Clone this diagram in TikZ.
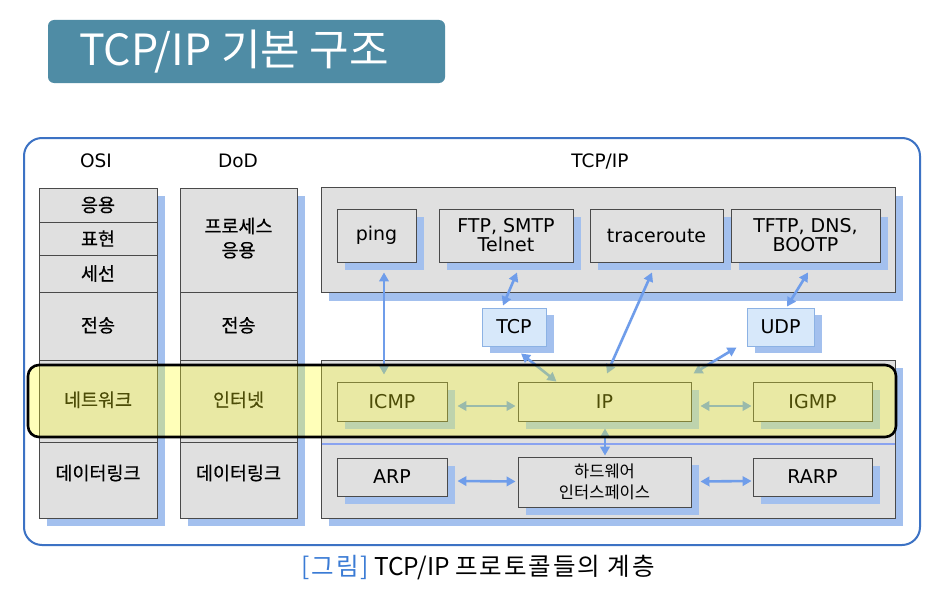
\documentclass[tikz,border=0pt]{standalone}
\usepackage{fontspec}
\setmainfont{DejaVu Sans}
\newfontfamily\kr{Noto Sans CJK KR}
\newfontfamily\krb[FakeBold=0.5]{Noto Sans CJK KR}
\newfontfamily\krcap[LetterSpace=8]{Noto Sans CJK KR}
\usetikzlibrary{arrows.meta,shadows,calc}
\definecolor{titlec}{HTML}{4F8CA5}
\definecolor{framec}{HTML}{3C72C4}
\definecolor{cellc}{HTML}{E0E0E0}
\definecolor{cellborder}{HTML}{4A4A4A}
\definecolor{shb}{HTML}{A3C0EE}
\definecolor{arrc}{HTML}{6F9DEA}
\definecolor{tcpfill}{HTML}{D7E8FA}
\definecolor{tcpborder}{HTML}{8CB2E4}
\definecolor{hlc}{HTML}{FFFF1A}
\definecolor{capblue}{HTML}{3A7BD5}
\begin{document}
\begin{tikzpicture}[x=1pt,y=-1pt,
  cell/.style={draw=cellborder, line width=0.9pt, fill=cellc, inner sep=0pt, align=center,
    font=\krb\fontsize{18.5}{25}\selectfont},
  bigbox/.style={draw=cellborder, line width=0.9pt, fill=cellc, inner sep=0pt,
    general shadow={fill=shb, shadow xshift=8pt, shadow yshift=-8pt}},
  pbox/.style={draw=cellborder, line width=0.9pt, fill=cellc, inner sep=0pt, align=center,
    font=\fontsize{19}{19}\selectfont,
    general shadow={fill=shb, shadow xshift=8pt, shadow yshift=-8pt}},
  tbox/.style={draw=tcpborder, line width=0.9pt, fill=tcpfill, inner sep=0pt,
    font=\fontsize{19}{19}\selectfont,
    general shadow={fill=shb, shadow xshift=8pt, shadow yshift=-7pt}},
  hdr/.style={font=\fontsize{18.5}{20}\selectfont},
  arr/.style={draw=arrc, line width=2.6pt, {Triangle[length=9pt,width=9.5pt]}-{Triangle[length=9pt,width=9.5pt]}},
]
\useasboundingbox (0,0) rectangle (934,594);
\fill[white] (0,0) rectangle (934,594);

% title
\node[fill=titlec, rounded corners=6pt, minimum width=397pt, minimum height=63pt, inner sep=0pt] (titlebox) at (246.5,51.5) {};
\node[anchor=base west, text=white, font=\kr\fontsize{43}{47}\selectfont, inner sep=0pt] (titletext) at (79,66) {TCP/IP 기본 구조};

% outer frame
\draw[framec, line width=2pt, rounded corners=18pt] (24,138) rectangle (920,545);

% headers
\node[hdr] (hosi) at (96,161) {OSI};
\node[hdr] (hdod) at (238,161) {DoD};
\node[hdr] (htcp) at (600,161) {TCP/IP};

% column shadows
\fill[shb] (47,196) rectangle (165,526);
\fill[shb] (188,196) rectangle (305,526);

% OSI column
\node[cell, minimum width=118pt, minimum height=34pt] (osi1) at (98,205) {\raisebox{-2pt}{응용}};
\node[cell, minimum width=118pt, minimum height=33pt] (osi2) at (98,238.5) {표현};
\node[cell, minimum width=118pt, minimum height=37pt] (osi3) at (98,273.5) {\raisebox{-2pt}{세선}};
\node[cell, minimum width=118pt, minimum height=68pt] (osi4) at (98,326) {\raisebox{3pt}{전송}};
\node[cell, minimum width=118pt, minimum height=82pt] (osi5) at (98,401) {\raisebox{4pt}{네트워크}};
\node[cell, minimum width=118pt, minimum height=76pt,
  label={[font=\krb\fontsize{18.5}{22}\selectfont, yshift=7pt]center:데이터링크}] (osi6) at (98,480) {};

% DoD column
\node[cell, minimum width=117pt, minimum height=104pt] (dod1) at (238.5,240) {\raisebox{3pt}{\begin{tabular}{@{}c@{}}프로세스\\[-1pt]응용\end{tabular}}};
\node[cell, minimum width=117pt, minimum height=68pt] (dod2) at (238.5,326) {\raisebox{3pt}{전송}};
\node[cell, minimum width=117pt, minimum height=82pt] (dod3) at (238.5,401) {\raisebox{4pt}{인터넷}};
\node[cell, minimum width=117pt, minimum height=76pt,
  label={[font=\krb\fontsize{18.5}{22}\selectfont, yshift=7pt]center:데이터링크}] (dod4) at (238.5,480) {};

% TCP/IP big boxes
\node[bigbox, minimum width=574pt, minimum height=105pt] (appl) at (608,240) {};
\node[bigbox, minimum width=574pt, minimum height=83pt] (inet) at (608,401.5) {};
\node[bigbox, minimum width=574pt, minimum height=75pt] (link) at (608,480.5) {};
\draw[shb!85!blue, line width=2.2pt] ([xshift=1pt,yshift=-1.4pt]link.north west) -- ([xshift=-0.5pt,yshift=-1.4pt]link.north east);

% application boxes
\node[pbox, minimum width=79pt, minimum height=53pt] (ping) at (376.5,235.5) {ping};
\node[pbox, minimum width=134pt, minimum height=53pt] (ftp) at (506,235.5) {FTP, SMTP\\Telnet};
\node[pbox, minimum width=133pt, minimum height=53pt] (trace) at (656.5,235.5) {traceroute};
\node[pbox, minimum width=149pt, minimum height=53pt] (tftp) at (805.5,235.5) {TFTP, DNS,\\BOOTP};

% transport
\node[tbox, minimum width=64pt, minimum height=38pt] (tcp) at (514,327) {TCP};
\node[tbox, minimum width=67pt, minimum height=38pt] (udp) at (780.5,327) {UDP};

% internet
\node[pbox, minimum width=110pt, minimum height=39pt] (icmp) at (392,401.5) {ICMP};
\node[pbox, minimum width=173pt, minimum height=39pt] (ip) at (604.5,401.5) {IP};
\node[pbox, minimum width=119pt, minimum height=39pt] (igmp) at (812.5,401.5) {IGMP};

% link
\node[pbox, minimum width=110pt, minimum height=38pt] (arp) at (392,477) {ARP};
\node[pbox, minimum width=173pt, minimum height=50pt, font=\kr\fontsize{16.5}{21}\selectfont] (hw) at (604.5,482) {하드웨어\\인터스페이스};
\node[pbox, minimum width=119pt, minimum height=38pt] (rarp) at (812.5,477) {RARP};

% connectors
\draw[arr] ([xshift=7.5pt,yshift=-10pt]ping.south) -- ([xshift=-8pt,yshift=7pt]icmp.north);
\draw[arr] ([xshift=11pt,yshift=-10pt]ftp.south) -- ([xshift=-11pt,yshift=2pt]tcp.north);
\draw[arr] ([xshift=7pt,yshift=-7pt]tcp.south) -- ([xshift=-48pt,yshift=0pt]ip.north);
\draw[arr] ([xshift=-4.5pt,yshift=-10pt]trace.south) -- ([xshift=2.5pt,yshift=8pt]ip.north);
\draw[arr] ([xshift=2.5pt,yshift=-10pt]tftp.south) -- ([xshift=6.5pt,yshift=1pt]udp.north);
\draw[arr] ([xshift=-10pt,yshift=-1pt]udp.south west) -- ([xshift=2pt,yshift=8pt]ip.north east);
\draw[arr] ([xshift=10pt,yshift=-4.5pt]icmp.east) -- ([xshift=-2pt,yshift=-4.5pt]ip.west);
\draw[arr] ([xshift=9pt,yshift=-4.5pt]ip.east) -- ([xshift=-1pt,yshift=-4.5pt]igmp.west);
\draw[arr] ([xshift=0.5pt,yshift=-7pt]ip.south) -- ([xshift=0.5pt,yshift=1pt]hw.north);
\draw[arr] ([xshift=10pt,yshift=-4pt]arp.east) -- ([xshift=-2pt,yshift=0.5pt]hw.west);
\draw[arr] ([xshift=9pt,yshift=0.5pt]hw.east) -- ([xshift=-1pt,yshift=-4pt]rarp.west);

% highlight band
\draw[black, line width=2.6pt, fill=hlc, fill opacity=0.3, rounded corners=11pt] (28,365) rectangle (896,437);

% caption
\node[anchor=base, font=\kr\fontsize{24.5}{27}\selectfont, inner sep=0pt] (caption) at (478,575) {\textcolor{capblue}{\krcap[그림]} TCP/IP {\krcap 프로토콜들의 계층}};
\end{tikzpicture}
\end{document}
